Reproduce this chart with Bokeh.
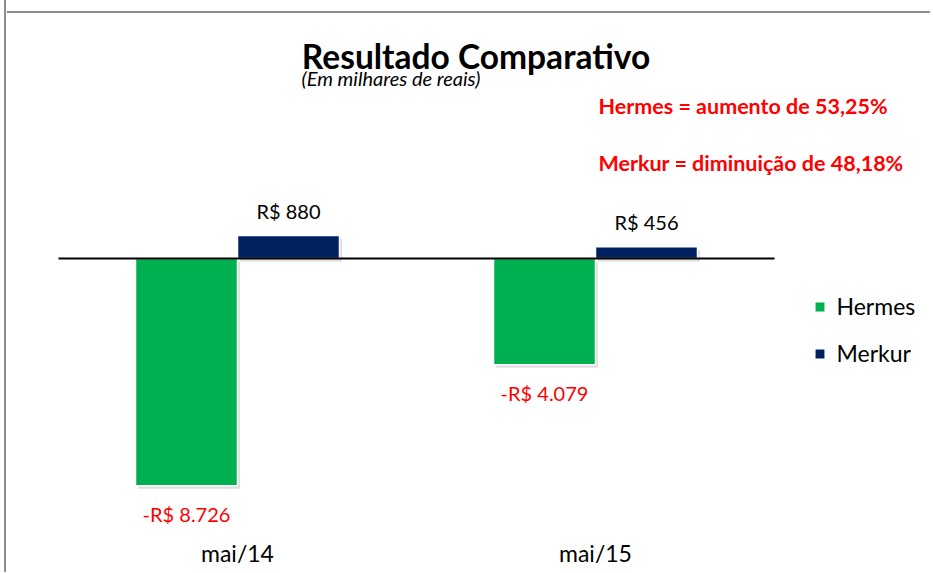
from bokeh.plotting import figure
from bokeh.models import Range1d, FixedTicker, Label, Legend, LegendItem
from bokeh.core.properties import value
from bokeh.embed import file_html
from bokeh.resources import INLINE

# ---- data ----
categories = ["mai/14", "mai/15"]
hermes = [-8726, -4079]
merkur = [880, 456]
hermes_labels = ["-R$ 8.726", "-R$ 4.079"]
merkur_labels = ["R$ 880", "R$ 456"]
series_names = ["Hermes", "Merkur"]
title_text = "Resultado Comparativo"
subtitle_text = "(Em milhares de reais)"
note_hermes = "Hermes =  aumento de 53,25%"
note_merkur = "Merkur =  diminuição de 48,18%"

# ---- layout (page pixels) ----
FRAME_L = 6
W, H = 926, 572
FRAME_T, FRAME_B = 0, 526
ZERO = 258
CAT1 = 237
STEP = 358
UPP = 38.4          # data units per pixel
BW = 102 / STEP     # bar width in category units
FONT = value("Lato")

x_start = 1 - (CAT1 - FRAME_L) / STEP
x_end = x_start + W / STEP
y_top = (ZERO - FRAME_T) * UPP
y_bot = -(FRAME_B - ZERO) * UPP


def dx(px):
    return x_start + (px - FRAME_L) / STEP


def dy(py):
    return (ZERO - py) * UPP


p = figure(width=W, height=H, output_backend="svg", toolbar_location=None,
           x_range=Range1d(x_start, x_end), y_range=Range1d(y_bot, y_top),
           min_border_left=0, min_border_right=0, min_border_top=0,
           min_border_bottom=H - (FRAME_B - FRAME_T))
p.styles = {"margin-left": "4px", "border-left": "2px solid #8c8c8c"}
p.outline_line_color = None
p.grid.visible = False
p.yaxis.visible = False
p.background_fill_color = "white"
p.border_fill_color = "white"

xs = [i + 1 for i in range(len(categories))]
xh = [x - BW / 2 for x in xs]
xm = [x + BW / 2 for x in xs]

# soft shadows
SH_X, SH_Y = 2.5 / STEP, 3 * UPP
p.vbar(x=[x + SH_X for x in xh], top=[v - SH_Y for v in hermes], bottom=-SH_Y,
       width=BW, fill_color="black", fill_alpha=0.13, line_color=None)
p.vbar(x=[x + SH_X for x in xm], top=[v - SH_Y for v in merkur], bottom=-SH_Y,
       width=BW, fill_color="black", fill_alpha=0.13, line_color=None)

rh = p.vbar(x=xh, top=hermes, bottom=0, width=BW, fill_color="#00B050",
            line_color="white", line_width=1.5)
rm = p.vbar(x=xm, top=merkur, bottom=0, width=BW, fill_color="#002060",
            line_color="white", line_width=1.5)

# zero line across the category area
p.segment(x0=[0.5], x1=[len(categories) + 0.5], y0=[0], y1=[0],
          line_color="black", line_width=2)
# top border
p.segment(x0=[x_start], x1=[x_end], y0=[dy(11.5)], y1=[dy(11.5)],
          line_color="#8c8c8c", line_width=2)

# value labels
p.text(x=xm, y=[v + 25 * UPP for v in merkur], text=merkur_labels,
       text_align="center", text_baseline="middle", text_font=FONT,
       text_font_size="20px", text_color="black")
p.text(x=xh, y=[v - 28 * UPP for v in hermes], text=hermes_labels,
       text_align="center", text_baseline="middle", text_font=FONT,
       text_font_size="20px", text_color="#FF0000")

# titles and notes
p.add_layout(Label(x=dx(475.5), y=dy(55), text=title_text, text_align="center",
                   text_baseline="alphabetic", text_font="Lato",
                   text_font_style="bold", text_font_size="33.5px", text_color="black"))
p.add_layout(Label(x=dx(301), y=dy(77), text=subtitle_text, text_align="left",
                   text_baseline="alphabetic", text_font="Lato",
                   text_font_style="italic", text_font_size="20px", text_color="black"))
p.add_layout(Label(x=dx(598), y=dy(105), text=note_hermes, text_align="left",
                   text_baseline="middle", text_font="Lato",
                   text_font_style="bold", text_font_size="21.5px", text_color="#FF0000"))
p.add_layout(Label(x=dx(598), y=dy(162), text=note_merkur, text_align="left",
                   text_baseline="middle", text_font="Lato",
                   text_font_style="bold", text_font_size="21.5px", text_color="#FF0000"))

# legend (location = bottom-left corner, measured from frame bottom-left)
legend = Legend(items=[LegendItem(label=series_names[0], renderers=[rh]),
                       LegendItem(label=series_names[1], renderers=[rm])],
                location=(816 - 3.5 - FRAME_L, FRAME_B - 367),
                glyph_width=13, glyph_height=13, label_standoff=11,
                label_text_font="Lato", label_text_font_size="23px",
                label_text_color="black",
                label_height=28, spacing=19, padding=0, margin=0,
                background_fill_alpha=0, border_line_color=None)
p.add_layout(legend)

# category axis
p.xaxis.ticker = FixedTicker(ticks=xs)
p.xaxis.major_label_overrides = {x: c for x, c in zip(xs, categories)}
p.xaxis.axis_line_color = None
p.xaxis.major_tick_line_color = None
p.xaxis.minor_tick_line_color = None
p.xaxis.major_label_standoff = 6
p.xaxis.major_label_text_font = "Lato"
p.xaxis.major_label_text_font_size = "23px"
p.xaxis.major_label_text_color = "black"

open("out.html", "w").write(file_html(p, INLINE))
